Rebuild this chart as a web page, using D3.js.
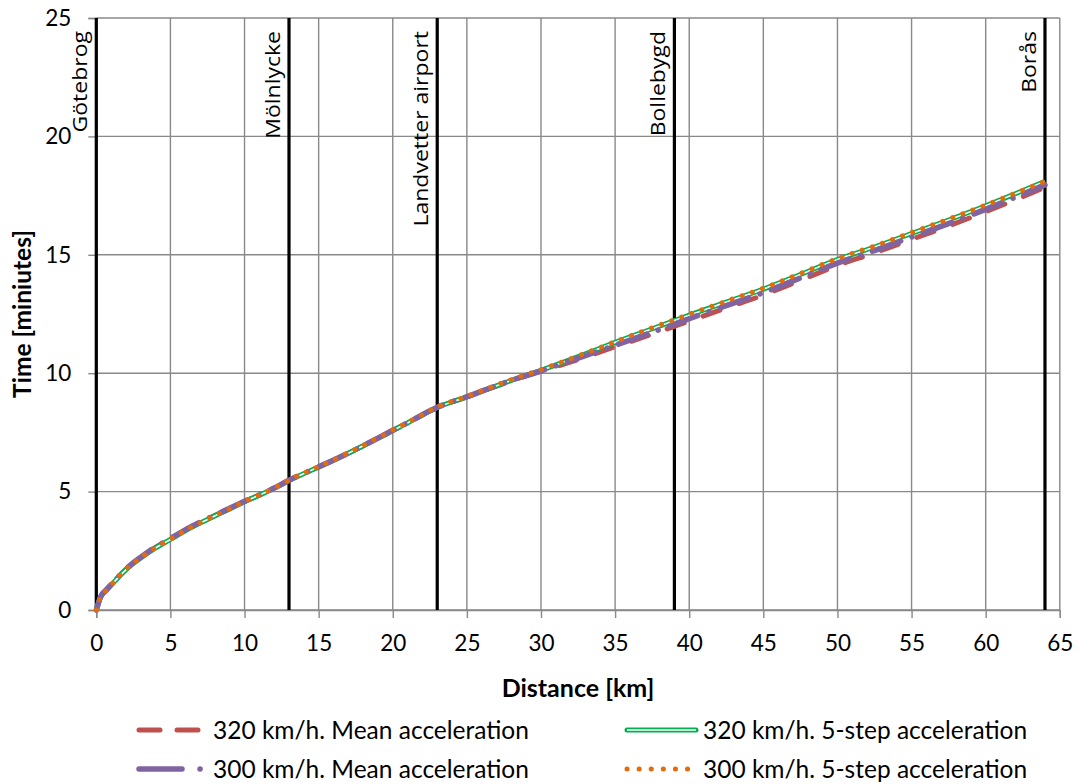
<!DOCTYPE html>
<html>
<head>
<meta charset="utf-8">
<script src="https://cdn.jsdelivr.net/npm/d3@7"></script>
<style>
  html, body { margin: 0; padding: 0; background: #fff; }
  svg { display: block; }
</style>
</head>
<body>
<svg id="chart" width="1080" height="784"></svg>
<script>
// Travel time along the Göteborg – Borås line
const distanceKm = [0, 0.3, 0.7, 1.2, 1.8, 2.4, 3, 4, 5, 6.3, 7.5, 8.6, 10, 12, 13, 15.3, 17, 19, 20, 21, 23, 25, 28, 30, 32.6, 35, 37, 39, 40, 42.5, 45, 47.5, 50, 52.5, 55, 57.5, 60, 62, 64];

const mean320 = [0, 0.56, 0.86, 1.2, 1.6, 1.94, 2.22, 2.65, 3.01, 3.48, 3.85, 4.17, 4.58, 5.14, 5.47, 6.12, 6.62, 7.25, 7.58, 7.9, 8.55, 9.0, 9.68, 10.08, 10.6, 11.12, 11.54, 11.98, 12.2, 12.76, 13.3, 13.92, 14.55, 15.08, 15.65, 16.22, 16.82, 17.33, 17.85];
const step320 = [0, 0.55, 0.84, 1.18, 1.58, 1.92, 2.2, 2.62, 2.98, 3.45, 3.82, 4.15, 4.57, 5.14, 5.47, 6.12, 6.62, 7.25, 7.58, 7.9, 8.55, 9.0, 9.7, 10.12, 10.72, 11.3, 11.76, 12.22, 12.45, 13.0, 13.55, 14.17, 14.8, 15.33, 15.9, 16.47, 17.07, 17.58, 18.1];
const mean300 = [0, 0.57, 0.87, 1.21, 1.61, 1.95, 2.23, 2.66, 3.02, 3.49, 3.86, 4.18, 4.59, 5.15, 5.48, 6.13, 6.63, 7.26, 7.59, 7.91, 8.56, 9.01, 9.7, 10.1, 10.66, 11.18, 11.62, 12.07, 12.3, 12.85, 13.4, 14.02, 14.65, 15.18, 15.75, 16.32, 16.92, 17.43, 17.95];
const step300 = [0, 0.56, 0.85, 1.19, 1.59, 1.93, 2.21, 2.63, 2.99, 3.46, 3.83, 4.16, 4.58, 5.15, 5.49, 6.14, 6.64, 7.27, 7.6, 7.92, 8.57, 9.02, 9.73, 10.15, 10.75, 11.33, 11.8, 12.26, 12.49, 13.04, 13.59, 14.21, 14.84, 15.37, 15.94, 16.51, 17.1, 17.6, 18.1];

const stationNames = ["Götebrog", "Mölnlycke", "Landvetter airport", "Bollebygd", "Borås"];
const stationKm = [0, 13, 23, 39, 64];

const xTicks = [0, 5, 10, 15, 20, 25, 30, 35, 40, 45, 50, 55, 60, 65];
const yTicks = [0, 5, 10, 15, 20, 25];

const seriesNames = [
  "320 km/h. Mean acceleration",
  "320 km/h. 5-step acceleration",
  "300 km/h. Mean acceleration",
  "300 km/h. 5-step acceleration"
];

const svg = d3.select("#chart");
const plotLeft = 96.3, plotRight = 1059.8, plotTop = 18, plotBottom = 610;
const x = d3.scaleLinear().domain([0, 65]).range([plotLeft, plotRight]);
const y = d3.scaleLinear().domain([0, 25]).range([plotBottom, plotTop]);

const gridColor = "#898989";
const tickFont = "Lato, 'Open Sans', sans-serif";

// grid
const grid = svg.append("g");
grid.selectAll("line.v").data(xTicks).join("line").attr("class", "v")
  .attr("x1", d => x(d)).attr("x2", d => x(d))
  .attr("y1", plotTop).attr("y2", plotBottom)
  .attr("stroke", gridColor).attr("stroke-width", 1.4);
grid.selectAll("line.h").data(yTicks).join("line").attr("class", "h")
  .attr("x1", plotLeft).attr("x2", plotRight)
  .attr("y1", d => y(d)).attr("y2", d => y(d))
  .attr("stroke", gridColor).attr("stroke-width", 1.4);

// axes
const xAxis = svg.append("g").attr("transform", `translate(0,${plotBottom})`)
  .call(d3.axisBottom(x).tickValues(xTicks).tickSize(8).tickPadding(17).tickFormat(d3.format("d")));
const yAxis = svg.append("g").attr("transform", `translate(${plotLeft},0)`)
  .call(d3.axisLeft(y).tickValues(yTicks).tickSize(8).tickPadding(17).tickFormat(d3.format("d")));
[xAxis, yAxis].forEach(a => {
  a.select(".domain").attr("stroke", gridColor).attr("stroke-width", 1.4);
  a.selectAll(".tick line").attr("stroke", gridColor).attr("stroke-width", 1.4);
  a.selectAll(".tick text").attr("fill", "#000").style("font-family", tickFont).style("font-size", "22.5px");
});

// station markers
svg.append("g").selectAll("line").data(stationKm).join("line")
  .attr("x1", d => x(d)).attr("x2", d => x(d))
  .attr("y1", plotTop).attr("y2", plotBottom)
  .attr("stroke", "#000").attr("stroke-width", 3.2);

// station names, written upwards and stretched along the reading direction
svg.append("g").selectAll("text").data(stationNames).join("text")
  .attr("transform", (d, i) => `translate(${x(stationKm[i]) - 9},31) rotate(-90) scale(1.15,1)`)
  .attr("text-anchor", "end")
  .style("font-family", "'Open Sans', sans-serif")
  .style("font-size", "20px")
  .attr("fill", "#000")
  .text(d => d);

// series
const line = d3.line()
  .x((d, i) => x(distanceKm[i]))
  .y(d => y(d))
  .curve(d3.curveMonotoneX);

const styles = [
  { color: "#C0504D", width: 5, dash: "18 20", cap: "round" },
  { color: "#00B050", width: 5, dash: null, cap: "butt", double: true },
  { color: "#8064A2", width: 5.5, dash: "30 12 0.1 12", cap: "round" },
  { color: "#E46C0A", width: 5, dash: "0.1 10.6", cap: "round" }
];
const seriesValues = [mean320, step320, mean300, step300];

const plot = svg.append("g");
seriesValues.forEach((vals, k) => {
  const s = styles[k];
  plot.append("path").attr("d", line(vals))
    .attr("fill", "none").attr("stroke", s.color)
    .attr("stroke-width", s.width)
    .attr("stroke-dasharray", s.dash)
    .attr("stroke-linecap", s.cap);
  if (s.double) {
    plot.append("path").attr("d", line(vals))
      .attr("fill", "none").attr("stroke", "#fff").attr("stroke-width", 1.7);
  }
});

// axis titles
svg.append("text")
  .attr("x", (plotLeft + plotRight) / 2).attr("y", 697)
  .attr("text-anchor", "middle")
  .style("font-family", tickFont).style("font-weight", "bold").style("font-size", "25px")
  .text("Distance [km]");
svg.append("text")
  .attr("transform", `translate(31,${(plotTop + plotBottom) / 2}) rotate(-90)`)
  .attr("text-anchor", "middle")
  .style("font-family", tickFont).style("font-weight", "bold").style("font-size", "24.5px")
  .text("Time [miniutes]");

// legend
const legendPos = [
  { sx: 139, sw: 60, tx: 213, ty: 730 },
  { sx: 627, sw: 69, tx: 703, ty: 730 },
  { sx: 139, sw: 64, tx: 213, ty: 769 },
  { sx: 627, sw: 61, tx: 703, ty: 769 }
];
const legendDash = ["21 17", null, "43 18 0.1 30", "0.1 12"];
const legend = svg.append("g");
seriesNames.forEach((name, k) => {
  const p = legendPos[k], s = styles[k];
  legend.append("line")
    .attr("x1", p.sx).attr("x2", p.sx + p.sw)
    .attr("y1", p.ty).attr("y2", p.ty)
    .attr("stroke", s.color).attr("stroke-width", s.width)
    .attr("stroke-dasharray", legendDash[k])
    .attr("stroke-linecap", k === 1 ? "round" : s.cap);
  if (s.double) {
    legend.append("line")
      .attr("x1", p.sx).attr("x2", p.sx + p.sw)
      .attr("y1", p.ty).attr("y2", p.ty)
      .attr("stroke", "#fff").attr("stroke-width", 1.7);
  }
  legend.append("text")
    .attr("x", p.tx).attr("y", p.ty).attr("dy", "0.35em")
    .style("font-family", tickFont).style("font-size", "24.5px")
    .text(name);
});
</script>
</body>
</html>
